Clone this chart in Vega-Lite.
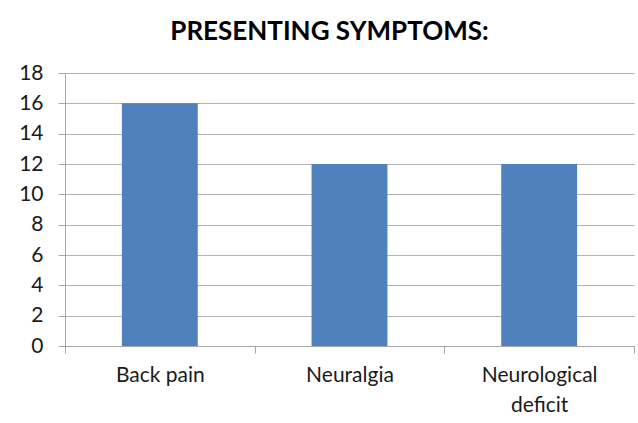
{
  "$schema": "https://vega.github.io/schema/vega-lite/v6.json",
  "width": 569,
  "height": 273,
  "autosize": {"type": "none"},
  "padding": {"left": 65, "top": 73, "right": 4, "bottom": 77},
  "background": "white",
  "title": {
    "text": "PRESENTING SYMPTOMS:",
    "font": "Lato",
    "fontSize": 26,
    "fontWeight": "bold",
    "color": "#000000",
    "anchor": "middle",
    "dx": -20,
    "offset": 17
  },
  "data": {
    "values": [
      {"symptom": "Back pain", "count": 16},
      {"symptom": "Neuralgia", "count": 12},
      {"symptom": "Neurological deficit", "count": 12}
    ]
  },
  "mark": {"type": "bar", "color": "#4F81BD", "width": {"band": 0.4}},
  "encoding": {
    "x": {
      "field": "symptom",
      "type": "nominal",
      "sort": null,
      "scale": {"paddingInner": 0, "paddingOuter": 0},
      "axis": {
        "title": null,
        "labelAngle": 0,
        "labelFont": "Lato",
        "labelFontSize": 21,
        "labelColor": "#1a1a1a",
        "labelPadding": 11,
        "labelLineHeight": 30,
        "labelExpr": "datum.label == 'Neurological deficit' ? ['Neurological', 'deficit'] : datum.label",
        "tickBand": "extent",
        "tickSize": 7,
        "tickColor": "#a6a6a6",
        "domainColor": "#a6a6a6",
        "grid": false
      }
    },
    "y": {
      "field": "count",
      "type": "quantitative",
      "scale": {"domain": [0, 18]},
      "axis": {
        "title": null,
        "values": [0, 2, 4, 6, 8, 10, 12, 14, 16, 18],
        "labelFont": "Lato",
        "labelFontSize": 21,
        "labelColor": "#1a1a1a",
        "labelPadding": 15,
        "tickSize": 7,
        "tickColor": "#a6a6a6",
        "domainColor": "#a6a6a6",
        "gridColor": "#b3b3b3",
        "grid": true
      }
    }
  },
  "config": {"view": {"stroke": null}}
}
